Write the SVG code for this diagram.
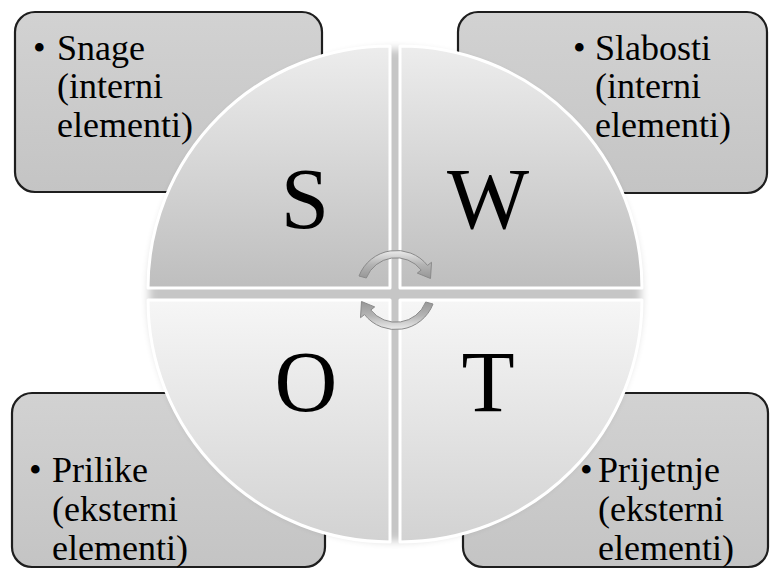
<svg xmlns="http://www.w3.org/2000/svg" width="770" height="571" viewBox="0 0 770 571">
<defs>
<style>
.box{fill:url(#boxg);stroke:#1e1e1e;stroke-width:2.2}
.lbl{font-family:"Liberation Serif","Times New Roman",serif;font-size:36px;fill:#000}
.big{font-family:"Liberation Serif","Times New Roman",serif;font-size:87px;fill:#000;text-anchor:middle}
.qt{fill:url(#qtop);stroke:#ffffff;stroke-width:3;stroke-linejoin:round}
.qb{fill:url(#qbot);stroke:#ffffff;stroke-width:3;stroke-linejoin:round}
.arr{fill:url(#arrg);stroke:#8a8a8a;stroke-width:1}
</style>
<linearGradient id="boxg" x1="0" y1="0" x2="0" y2="1">
<stop offset="0" stop-color="#d2d2d2"/>
<stop offset="1" stop-color="#c4c4c4"/>
</linearGradient>
<linearGradient id="qtop" x1="0" y1="45" x2="0" y2="288" gradientUnits="userSpaceOnUse">
<stop offset="0" stop-color="#ededed"/>
<stop offset="1" stop-color="#bebebe"/>
</linearGradient>
<linearGradient id="qbot" x1="0" y1="300" x2="0" y2="543" gradientUnits="userSpaceOnUse">
<stop offset="0" stop-color="#f6f6f6"/>
<stop offset="1" stop-color="#d2d2d2"/>
</linearGradient>
<linearGradient id="arrg" x1="0" y1="0" x2="0" y2="1">
<stop offset="0" stop-color="#ececec"/>
<stop offset="0.5" stop-color="#b4b4b4"/>
<stop offset="1" stop-color="#969696"/>
</linearGradient>
<filter id="sh" x="-20%" y="-20%" width="140%" height="140%">
<feGaussianBlur stdDeviation="4"/>
</filter>
</defs>

<g id="box-s">
<rect class="box" x="15" y="12" width="307" height="180" rx="20"/>
<text class="lbl" x="33" y="60">•</text>
<text class="lbl" x="57" y="60">Snage</text>
<text class="lbl" x="57" y="98">(interni</text>
<text class="lbl" x="57" y="137">elementi)</text>
</g>
<g id="box-w">
<rect class="box" x="458" y="12" width="309" height="181" rx="20"/>
<text class="lbl" x="573" y="60">•</text>
<text class="lbl" x="595" y="60">Slabosti</text>
<text class="lbl" x="595" y="98">(interni</text>
<text class="lbl" x="595" y="137">elementi)</text>
</g>
<g id="box-o">
<rect class="box" x="12" y="393" width="313" height="174" rx="20"/>
<text class="lbl" x="29" y="482">•</text>
<text class="lbl" x="52" y="482">Prilike</text>
<text class="lbl" x="52" y="521">(eksterni</text>
<text class="lbl" x="52" y="560">elementi)</text>
</g>
<g id="box-t">
<rect class="box" x="463" y="393" width="305" height="174" rx="20"/>
<text class="lbl" x="580" y="482">•</text>
<text class="lbl" x="598" y="482">Prijetnje</text>
<text class="lbl" x="598" y="521">(eksterni</text>
<text class="lbl" x="598" y="560">elementi)</text>
</g>

<g id="circle-shadow">
<circle cx="395" cy="295" r="246" fill="#000" opacity="0.22" filter="url(#sh)"/>
</g>

<g id="q-s">
<path class="qt" d="M390 288 L148 288 A242 242 0 0 1 390 46 Z"/>
<text class="big" x="305" y="228">S</text>
</g>
<g id="q-w">
<path class="qt" d="M400 288 L642 288 A242 242 0 0 0 400 46 Z"/>
<text class="big" x="488" y="228">W</text>
</g>
<g id="q-o">
<path class="qb" d="M390 300 L148 300 A242 242 0 0 0 390 542 Z"/>
<text class="big" x="306" y="411">O</text>
</g>
<g id="q-t">
<path class="qb" d="M400 300 L642 300 A242 242 0 0 1 400 542 Z"/>
<text class="big" x="488" y="411">T</text>
</g>

<g id="connectors">
<path class="arr" d="M359 276 A40 40 0 0 1 427.5 265.4 L431.5 262.3 L430.5 278.5 L417.3 273.1 L421.2 270.0 A32 32 0 0 0 366.3 278.0 Z"/>
<path class="arr" transform="rotate(180 396 290)" d="M359 276 A40 40 0 0 1 427.5 265.4 L431.5 262.3 L430.5 278.5 L417.3 273.1 L421.2 270.0 A32 32 0 0 0 366.3 278.0 Z"/>
</g>
</svg>
